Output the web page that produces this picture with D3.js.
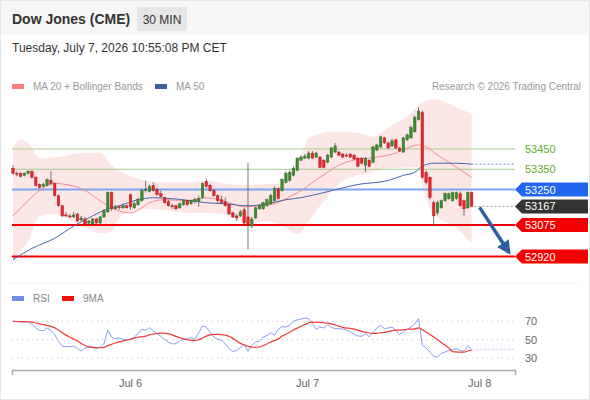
<!DOCTYPE html>
<html>
<head>
<meta charset="utf-8">
<script src="https://cdn.jsdelivr.net/npm/d3@7"></script>
<style>
  body { margin: 0; background: #fff; }
</style>
</head>
<body>
<div class="container"></div>
<script>
// --- data (30 min candles, index 0 = first bar) ---
const opens = [53355,53330,53330,53320,53330,53340,53310,53275,53265,53270,
  53295,53280,53220,53170,53125,53120,53115,53130,53100,53105,
  53085,53080,53105,53085,53115,53140,53235,53155,53165,53160,
  53170,53225,53160,53175,53195,53245,53240,53270,53250,53230,
  53210,53190,53170,53170,53160,53175,53195,53180,53190,53190,
  53210,53290,53270,53245,53220,53200,53190,53175,53135,53120,
  53120,53150,53115,53070,53110,53155,53155,53170,53180,53195,
  53255,53245,53285,53295,53320,53345,53395,53405,53405,53430,
  53410,53410,53395,53385,53410,53435,53435,53425,53420,53425,
  53420,53405,53405,53370,53395,53385,53445,53460,53505,53480,
  53465,53495,53455,53435,53495,53505,53535,53595,53630,53335,
  53310,53185,53135,53160,53195,53205,53195,53205,53230,53195,
  53160,53235]
const highs = [53370,53340,53335,53335,53345,53345,53315,53280,53285,53305,
  53340,53285,53225,53175,53140,53130,53140,53135,53120,53115,
  53100,53110,53110,53120,53155,53240,53240,53175,53170,53180,
  53175,53230,53190,53210,53255,53295,53275,53285,53260,53245,
  53215,53200,53180,53175,53185,53200,53200,53200,53210,53220,
  53285,53305,53280,53250,53225,53220,53210,53180,53140,53130,
  53150,53160,53380,53115,53165,53175,53190,53205,53230,53265,
  53260,53305,53340,53345,53365,53410,53420,53425,53440,53440,
  53435,53415,53400,53425,53460,53480,53440,53430,53430,53430,
  53425,53410,53410,53410,53400,53465,53475,53515,53510,53485,
  53500,53500,53460,53510,53525,53565,53615,53655,53640,53345,
  53315,53195,53195,53200,53235,53235,53240,53240,53240,53200,
  53240,53240]
const lows = [53325,53315,53310,53315,53325,53305,53265,53255,53260,53265,
  53270,53215,53165,53115,53115,53110,53110,53090,53095,53075,
  53075,53075,53080,53080,53110,53135,53145,53150,53150,53155,
  53155,53150,53155,53170,53190,53235,53235,53240,53220,53210,
  53180,53165,53155,53150,53155,53170,53170,53175,53180,53165,
  53205,53260,53240,53215,53180,53180,53165,53125,53110,53095,
  53115,53075,52955,53060,53105,53150,53150,53165,53175,53190,
  53200,53240,53280,53290,53315,53340,53390,53400,53400,53400,
  53405,53355,53355,53380,53405,53430,53415,53405,53410,53405,
  53395,53360,53375,53335,53360,53380,53440,53455,53475,53450,
  53460,53450,53435,53430,53490,53500,53530,53590,53305,53275,
  53200,53070,53125,53155,53190,53200,53190,53200,53165,53120,
  53155,53165]
const closes = [53330,53325,53315,53330,53340,53310,53270,53260,53275,53300,
  53280,53220,53170,53120,53125,53115,53125,53095,53110,53080,
  53095,53105,53085,53115,53145,53235,53155,53165,53160,53170,
  53160,53165,53180,53200,53245,53250,53265,53245,53225,53215,
  53185,53170,53165,53155,53180,53195,53175,53195,53200,53205,
  53280,53265,53245,53220,53195,53185,53170,53130,53115,53110,
  53140,53085,53080,53105,53160,53170,53185,53200,53220,53255,
  53205,53300,53330,53335,53355,53405,53410,53415,53430,53405,
  53430,53360,53360,53420,53455,53465,53420,53410,53420,53410,
  53400,53365,53380,53405,53365,53460,53470,53510,53480,53455,
  53490,53455,53440,53505,53520,53555,53605,53635,53310,53285,
  53210,53120,53185,53195,53230,53230,53235,53235,53170,53155,
  53235,53167]

// moving averages / bands, read at a few bars
const ma20Idx = [0,4,7,11,18,23,26,31,34,36,40,46,51,57,61,65,69,72,76,79,83,86,90,96,101,104,107,109,112,117,121]
const ma20 = [53120,53195,53245,53280,53255,53195,53160,53135,53160,53185,53200,53195,53210,53185,53165,53170,53180,53205,53245,53285,53335,53370,53395,53410,53430,53455,53470,53460,53420,53360,53310]
const upperIdx = [0,2,4,7,12,18,23,26,32,35,41,46,51,56,61,65,71,74,77,78,84,91,95,99,104,108,111,117,121]
const upperBand = [53460,53495,53480,53405,53410,53430,53430,53370,53310,53295,53285,53285,53295,53280,53270,53275,53280,53360,53460,53505,53535,53530,53510,53555,53610,53680,53695,53655,53625]
const lowerIdx = [0,2,4,7,10,14,19,23,26,28,32,36,41,46,51,56,60,63,67,71,75,78,82,86,91,95,99,107,108,111,117,121]
const lowerBand = [52895,52945,52995,53120,53130,53110,53060,53035,53045,53110,53145,53155,53145,53135,53135,53130,53095,53085,53095,53070,53030,53095,53195,53280,53320,53335,53355,53360,53270,53130,53060,52980]
const ma50Idx = [0,5,11,16,21,25,28,33,37,42,47,51,56,62,67,72,76,82,91,99,103,106,108,111,117,121]
const ma50 = [52905,52960,53010,53070,53120,53155,53170,53200,53210,53205,53195,53185,53180,53170,53180,53200,53210,53235,53275,53295,53320,53335,53365,53380,53380,53375]

const rsi = [70,69.6,69.3,69.3,69.3,67,62.7,60.2,59.8,62.7,
  60.2,55.5,48.2,42.7,42.4,42.4,42.7,40.5,37.6,40.9,
  41.8,42.4,40.2,42,45.6,60.2,52.9,51,51.8,50.4,
  50,50.4,52.9,56.5,61.3,60.2,63.1,59.5,56.5,53.6,
  50.4,47.5,45.3,45.6,48.5,50.4,51,52.2,50.4,57.6,
  64.9,63.5,58.4,52.9,50.4,49.3,45.6,40.2,37.3,38,
  41.3,44.5,37.3,43.8,47.5,48.2,52.9,54.4,57.6,54.7,
  61.3,64.2,63.8,65.6,70,71.5,72.5,73.6,72.9,67.5,
  61.3,63.8,62.7,66.4,63.5,62,62,61.6,60.2,58.4,
  56,54,53.6,56.5,53.3,57.6,62.7,65.6,62,62.7,
  63.8,60.2,55.5,58.4,61.3,63.8,67.1,72.9,43.8,40.9,
  36.5,31.8,31.1,35.1,36.5,38.4,39.1,40.2,38,37.6,
  43.1,39.5]
const rsiLevels = [70, 50, 30]

const levelValues = [53450, 53350, 53250, 53167, 53075, 52920]
const levelTypes = ["res", "res", "pivot", "last", "sup", "sup"]

const dayLabels = ["Jul 6", "Jul 7", "Jul 8"]
const dayIdx = [30.9, 77.6, 123]

const title = "Dow Jones (CME)"
const period = "30 MIN"
const stamp = "Tuesday, July 7, 2026 10:55:08 PM CET"

// --- layout ---
const W = 590, H = 400
const plotL = 12, plotR = 515, labelX = 515

const levelStyle = {
  res: {line: "#a9c98f", width: 1, text: "#5fae2a", box: null},
  pivot: {line: "#7aa6f4", width: 2, text: "#fff", box: "#2166f0"},
  last: {line: null, width: 1, text: "#fff", box: "#333333"},
  sup: {line: "#f50000", width: 2, text: "#fff", box: "#f50000"}
}

const svg = d3.select(".container").append("svg")
  .attr("width", W)
  .attr("height", H)
  .style("font-family", "'Liberation Sans', Arial, sans-serif")

svg.append("rect").attr("x", 0.5).attr("y", 0.5).attr("width", W - 1).attr("height", H - 1)
  .attr("fill", "#fff").attr("stroke", "#e6e6e6")
svg.append("rect").attr("x", 1).attr("y", 1).attr("width", W - 2).attr("height", 34).attr("fill", "#f6f6f6")

svg.append("text").attr("x", 12).attr("y", 24).text(title)
  .attr("font-size", 14).attr("font-weight", "bold").attr("fill", "#333")
svg.append("rect").attr("x", 137).attr("y", 7).attr("width", 50).attr("height", 24).attr("fill", "#e6e6e6")
svg.append("text").attr("x", 162).attr("y", 23.5).attr("text-anchor", "middle").text(period)
  .attr("font-size", 12).attr("fill", "#333")
svg.append("text").attr("x", 12).attr("y", 52).text(stamp).attr("font-size", 12).attr("fill", "#333")

// legend
const legend = [
  {x: 12, color: "#f88080", label: "MA 20 + Bollinger Bands"},
  {x: 155, color: "#3a5f9c", label: "MA 50"}
]
legend.forEach(d => {
  svg.append("rect").attr("x", d.x).attr("y", 84).attr("width", 12).attr("height", 5).attr("fill", d.color)
  svg.append("text").attr("x", d.x + 21).attr("y", 90).text(d.label).attr("font-size", 10).attr("fill", "#999")
})
svg.append("text").attr("x", 581).attr("y", 90).attr("text-anchor", "end")
  .text("Research \u00a9 2026 Trading Central").attr("font-size", 10).attr("fill", "#999")

// scales
const n = closes.length
const x = d3.scaleLinear().domain([0, n - 1]).range([13, 471.6])
const y = d3.scaleLinear().domain([52920, 53450]).range([256.5, 149])

// bollinger band area
const upPts = upperIdx.map((d, i) => [x(d), y(upperBand[i])])
const loPts = lowerIdx.map((d, i) => [x(d), y(lowerBand[i])]).reverse()
const upPath = d3.line().curve(d3.curveMonotoneX)(upPts)
const loPath = d3.line().curve(d3.curveMonotoneX)(loPts)
svg.append("path").attr("d", upPath + "L" + loPath.slice(1) + "Z").attr("fill", "#fde6e6")

// level lines
levelValues.forEach((v, i) => {
  const s = levelStyle[levelTypes[i]]
  if (s.line) {
    svg.append("line").attr("x1", plotL).attr("x2", plotR)
      .attr("y1", y(v)).attr("y2", y(v))
      .attr("stroke", s.line).attr("stroke-width", s.width)
  }
})

// MA lines
const maLine = d3.line().x(d => x(d[0])).y(d => y(d[1])).curve(d3.curveMonotoneX)
svg.append("path").datum(ma20Idx.map((d, i) => [d, ma20[i]]))
  .attr("d", maLine).attr("fill", "none").attr("stroke", "#f58c8c").attr("stroke-width", 1)
svg.append("path").datum(ma50Idx.map((d, i) => [d, ma50[i]]))
  .attr("d", maLine).attr("fill", "none").attr("stroke", "#4466a8").attr("stroke-width", 1)
svg.append("line").attr("x1", x(n - 1)).attr("x2", plotR)
  .attr("y1", y(ma50[ma50.length - 1])).attr("y2", y(ma50[ma50.length - 1]))
  .attr("stroke", "#6d8fc9").attr("stroke-dasharray", "2,2")

// last price dotted
svg.append("line").attr("x1", x(n - 1) + 3).attr("x2", plotR)
  .attr("y1", y(closes[n - 1])).attr("y2", y(closes[n - 1]))
  .attr("stroke", "#999").attr("stroke-dasharray", "2,2")

// candles
const candles = svg.append("g")
closes.forEach((c, i) => {
  const o = opens[i]
  const up = c > o
  candles.append("line").attr("x1", x(i)).attr("x2", x(i))
    .attr("y1", y(highs[i])).attr("y2", y(lows[i]))
    .attr("stroke", "#555").attr("stroke-width", 0.8)
  const top = y(Math.max(o, c)), bot = y(Math.min(o, c))
  candles.append("rect").attr("x", x(i) - 1.3).attr("width", 2.6)
    .attr("y", top).attr("height", Math.max(1, bot - top))
    .attr("fill", up ? "#3d8c2e" : "#ec2328")
    .attr("stroke", up ? "#2c6421" : "#a81c1f").attr("stroke-width", 0.4)
})

// arrow towards target
svg.append("defs").append("marker").attr("id", "head")
  .attr("viewBox", "0 0 10 10").attr("refX", 8).attr("refY", 5)
  .attr("markerWidth", 4).attr("markerHeight", 4).attr("orient", "auto")
  .append("path").attr("d", "M0,0L10,5L0,10Z").attr("fill", "#2f5e9c")
svg.append("line").attr("x1", x(n - 1) + 8).attr("y1", y(closes[n - 1]) + 1)
  .attr("x2", labelX - 6).attr("y2", y(levelValues[5]) - 4)
  .attr("stroke", "#2f5e9c").attr("stroke-width", 3.5).attr("marker-end", "url(#head)")

// right labels
levelValues.forEach((v, i) => {
  const s = levelStyle[levelTypes[i]]
  const yc = y(v)
  if (s.box) {
    svg.append("path")
      .attr("d", `M${labelX},${yc}L${labelX + 7},${yc - 7}H588V${yc + 7}H${labelX + 7}Z`)
      .attr("fill", s.box)
  }
  svg.append("text").attr("x", 525).attr("y", yc + 4).text(v)
    .attr("font-size", 11).attr("fill", s.text)
})

// --- RSI panel ---
const yr = d3.scaleLinear().domain([30, 70]).range([358, 321.3])
const rsiMa = rsi.map((d, i) => d3.mean(rsi.slice(Math.max(0, i - 8), i + 1)))

svg.append("line").attr("x1", 10).attr("x2", 580).attr("y1", 283).attr("y2", 283)
  .attr("stroke", "#f3e3e3").attr("stroke-dasharray", "2,2")

const rsiLegend = [
  {x: 12, color: "#6f8fe6", label: "RSI"},
  {x: 62, color: "#f01010", label: "9MA"}
]
rsiLegend.forEach(d => {
  svg.append("rect").attr("x", d.x).attr("y", 296).attr("width", 12).attr("height", 5).attr("fill", d.color)
  svg.append("text").attr("x", d.x + 21).attr("y", 302).text(d.label).attr("font-size", 10).attr("fill", "#888")
})

rsiLevels.forEach(v => {
  svg.append("line").attr("x1", plotL).attr("x2", plotR).attr("y1", yr(v)).attr("y2", yr(v))
    .attr("stroke", "#c4c4c4").attr("stroke-dasharray", "1,4")
  svg.append("text").attr("x", 525).attr("y", yr(v) + 4).text(v).attr("font-size", 11).attr("fill", "#666")
})

const rLine = d3.line().x((d, i) => x(i)).y(d => yr(d))
svg.append("path").datum(rsi).attr("d", rLine).attr("fill", "none")
  .attr("stroke", "#86a2ee").attr("stroke-width", 1)
svg.append("line").attr("x1", x(n - 1)).attr("x2", plotR)
  .attr("y1", yr(rsi[n - 1])).attr("y2", yr(rsi[n - 1]))
  .attr("stroke", "#b5c6f2").attr("stroke-dasharray", "2,2")
svg.append("path").datum(rsiMa).attr("d", rLine.curve(d3.curveMonotoneX)).attr("fill", "none")
  .attr("stroke", "#f03a3a").attr("stroke-width", 1.2)

// time axis
const xa = d3.scaleLinear().domain([x.invert(plotL), x.invert(plotR)]).range([plotL, plotR])
const axis = svg.append("g").attr("transform", "translate(0,370)")
  .call(d3.axisBottom(xa).tickValues(dayIdx).tickFormat((d, i) => dayLabels[i])
    .tickSizeInner(0).tickSizeOuter(5).tickPadding(9))
axis.select(".domain").attr("stroke", "#aaa").attr("stroke-width", 1.5)
axis.selectAll("text").attr("font-size", 11).attr("fill", "#666")
  .style("font-family", "'Liberation Sans', Arial, sans-serif")
</script>
</body>
</html>
